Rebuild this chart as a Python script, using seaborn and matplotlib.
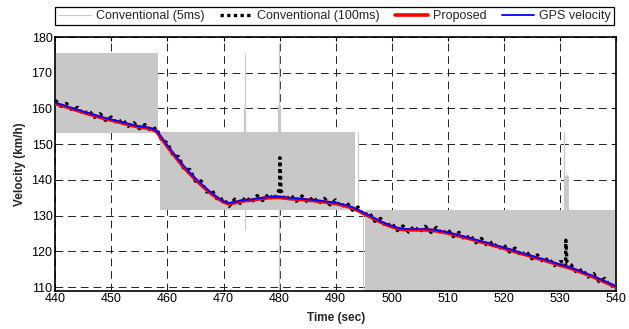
import numpy as np
import pandas as pd
import matplotlib
matplotlib.use("Agg")
import matplotlib.pyplot as plt
import seaborn as sns
from matplotlib.lines import Line2D

# ---------------- data ----------------
time_s = list(range(440, 541))

gps_velocity = [
    161.6, 161.1, 160.6, 160.1, 159.6, 159.1, 158.6, 158.2, 157.7, 157.3,
    156.9, 156.5, 156.1, 155.7, 155.3, 155.0, 154.8, 154.5, 153.8, 151.8,
    149.6, 147.6, 145.6, 143.7, 142.0, 140.4, 138.9, 137.5, 136.2, 135.0,
    134.0, 133.5, 133.8, 134.2, 134.4, 134.5, 134.8, 135.0, 135.2, 135.3,
    135.3, 135.1, 134.9, 134.8, 134.7, 134.5, 134.4, 134.2, 134.0, 133.8,
    133.6, 133.2, 132.8, 132.3, 131.6, 130.8, 130.0, 129.2, 128.4, 127.7,
    127.1, 126.6, 126.3, 126.2, 126.2, 126.2, 126.2, 126.1, 125.9, 125.6,
    125.3, 124.9, 124.5, 124.1, 123.7, 123.2, 122.8, 122.4, 121.9, 121.5,
    121.0, 120.6, 120.1, 119.6, 119.2, 118.7, 118.2, 117.8, 117.3, 116.8,
    116.3, 115.9, 115.4, 114.8, 114.2, 113.6, 113.0, 112.3, 111.6, 110.9,
    110.2,
]

proposed = [
    161.3, 160.9, 160.4, 159.9, 159.4, 158.9, 158.4, 158.0, 157.5, 157.1,
    156.7, 156.3, 155.9, 155.5, 155.1, 154.8, 154.6, 154.3, 153.6, 151.5,
    149.3, 147.3, 145.3, 143.4, 141.7, 140.1, 138.6, 137.2, 135.9, 134.8,
    133.8, 133.3, 133.6, 134.0, 134.2, 134.3, 134.6, 134.8, 135.0, 135.1,
    135.1, 134.9, 134.7, 134.6, 134.5, 134.3, 134.2, 134.0, 133.8, 133.6,
    133.4, 133.0, 132.6, 132.1, 131.4, 130.6, 129.8, 129.0, 128.2, 127.5,
    126.9, 126.4, 126.1, 126.0, 126.0, 126.0, 126.0, 125.9, 125.7, 125.4,
    125.1, 124.7, 124.3, 123.9, 123.5, 123.0, 122.6, 122.2, 121.7, 121.3,
    120.8, 120.4, 119.9, 119.4, 119.0, 118.5, 118.0, 117.6, 117.1, 116.6,
    116.1, 115.7, 115.2, 114.6, 114.0, 113.4, 112.8, 112.1, 111.4, 110.7,
    110.0,
]

conv100 = [
    162.3, 160.6, 161.4, 159.5, 160.3, 158.4, 159.4, 157.5, 158.5, 156.6,
    157.6, 155.8, 156.9, 155.0, 156.0, 154.3, 155.5, 153.8, 154.6, 151.0,
    150.4, 146.8, 146.5, 142.9, 142.9, 139.6, 139.7, 136.6, 137.0, 134.2,
    134.8, 132.6, 134.6, 133.4, 135.2, 133.7, 135.6, 134.2, 136.0, 134.5,
    136.1, 134.3, 135.7, 134.0, 135.5, 133.7, 135.2, 133.4, 134.8, 133.0,
    134.4, 132.4, 133.6, 131.5, 132.4, 130.0, 130.8, 128.4, 129.2, 126.9,
    127.9, 125.8, 127.1, 125.4, 127.0, 125.4, 127.0, 125.3, 126.7, 124.8,
    126.1, 124.1, 125.3, 123.3, 124.5, 122.4, 123.6, 121.6, 122.7, 120.7,
    121.8, 119.8, 120.9, 118.8, 120.0, 117.9, 119.0, 117.0, 118.1, 116.0,
    117.1, 115.1, 116.2, 114.0, 115.0, 112.8, 113.8, 111.5, 112.4, 110.1,
    110.9,
]
conv100_spike_t = [479.85, 480.05, 480.25, 530.85, 531.05, 531.25]
conv100_spike_v = [137.0, 146.2, 137.0, 117.0, 123.1, 117.0]

# Conventional (5ms): quantized signal filling bands + isolated spikes
band_start = [440.0, 458.6, 495.5]
band_end = [458.4, 493.4, 540.0]
band_low = [153.2, 131.6, 100.0]
band_high = [175.5, 153.5, 131.6]

spike_t = [473.9, 473.9, 479.9, 479.9, 493.9, 494.8, 495.2, 530.8, 531.0]
spike_low = [126.0, 153.5, 100.0, 153.5, 131.6, 100.0, 100.0, 131.6, 131.6]
spike_high = [175.5, 160.5, 178.2, 161.0, 153.5, 131.6, 131.6, 153.5, 141.3]
spike_width = [0.8, 1.6, 1.0, 2.2, 0.8, 0.8, 0.8, 1.0, 3.5]

xticks = list(range(440, 541, 10))
yticks = list(range(110, 181, 10))

# ---------------- style ----------------
sns.set_theme(style="white")
plt.rcParams["font.family"] = ["Liberation Sans", "DejaVu Sans"]

fig = plt.figure(figsize=(6.29, 3.29), dpi=100)
W, H = 629, 329
ax = fig.add_axes([55.3 / W, 1 - 290.6 / H, (616 - 55.3) / W, (290.6 - 37) / H])

gray = "#c8c8c8"

for s, e, lo, hi in zip(band_start, band_end, band_low, band_high):
    ax.fill_between([s, e], [lo, lo], [hi, hi], color=gray, lw=0, zorder=2)
for t, lo, hi, w in zip(spike_t, spike_low, spike_high, spike_width):
    ax.vlines(t, lo, hi, color=gray, lw=w, zorder=2)

df = pd.DataFrame({"t": time_s, "gps": gps_velocity, "prop": proposed, "c100": conv100})
df100 = pd.concat([
    df[["t", "c100"]],
    pd.DataFrame({"t": conv100_spike_t, "c100": conv100_spike_v}),
]).sort_values("t", kind="mergesort")

dots = (0, (1.0, 1.0))
sns.lineplot(data=df100, x="t", y="c100", ax=ax, color="black", lw=2.4,
             linestyle=dots, zorder=3, sort=False, estimator=None)
sns.lineplot(data=df, x="t", y="prop", ax=ax, color="#ff0000", lw=2.6, zorder=4,
             estimator=None)
sns.lineplot(data=df, x="t", y="gps", ax=ax, color="#0000ff", lw=1.3, zorder=5,
             estimator=None)

ax.set_xlim(440, 540)
ax.set_ylim(109, 180)
ax.set_xticks(xticks)
ax.set_yticks(yticks)
ax.grid(True, color="#222222", linestyle=(0, (8, 5)), lw=0.7, zorder=0)
ax.set_axisbelow(True)
ax.tick_params(direction="in", length=3, width=0.8, top=True, right=True,
               labelsize=9, colors="black", pad=2)
for sp in ax.spines.values():
    sp.set_color("black")
    sp.set_linewidth(1.2)
    sp.set_visible(True)

ax.set_xlabel("Time (sec)", fontsize=8.5, fontweight="bold", labelpad=5)
ax.set_ylabel("Velocity (km/h)", fontsize=8.5, fontweight="bold", labelpad=4)

handles = [
    Line2D([], [], color=gray, lw=0.8),
    Line2D([], [], color="black", lw=2.4, linestyle=dots),
    Line2D([], [], color="#ff0000", lw=2.6),
    Line2D([], [], color="#0000ff", lw=1.3),
]
labels = ["Conventional (5ms)", "Conventional (100ms)", "Proposed", "GPS velocity"]
leg = fig.legend(handles, labels, loc="lower left", ncol=4, mode="expand",
                 bbox_to_anchor=(55 / W, 1 - 25 / H, (614 - 55) / W, 21 / H),
                 borderaxespad=0, fontsize=9, handlelength=2.6, handletextpad=0.4,
                 columnspacing=0.6, frameon=True, fancybox=False, framealpha=1,
                 borderpad=0.25)
leg.get_frame().set_edgecolor("black")
leg.get_frame().set_linewidth(0.9)

fig.savefig("out.png", dpi=100)
